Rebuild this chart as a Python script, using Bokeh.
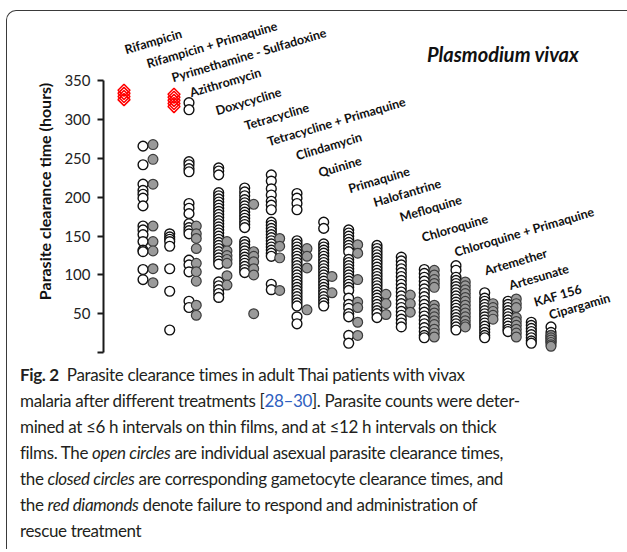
import math
from bokeh.plotting import figure
from bokeh.models import Range1d, FixedTicker, Div, ColumnDataSource, Label
from bokeh.layouts import column
from bokeh.embed import file_html
from bokeh.resources import INLINE
from bokeh.core.properties import value

# ---------------- data ----------------
drugs = ["Rifampicin", "Rifampicin + Primaquine", "Pyrimethamine - Sulfadoxine",
         "Azithromycin", "Doxycycline", "Tetracycline", "Tetracycline + Primaquine",
         "Clindamycin", "Quinine", "Primaquine", "Halofantrine", "Mefloquine",
         "Chloroquine", "Chloroquine + Primaquine", "Artemether", "Artesunate",
         "KAF 156", "Cipargamin"]

# asexual parasite clearance times (open circles), hours
open_times = [
    [],
    [266, 242, 217, 209, 204, 199, 189, 163, 158, 152, 143, 132, 130, 107, 94],
    [153, 149, 146, 143, 137, 108, 79, 29],
    [322, 313, 246, 242, 237, 233, 192, 186, 179, 166, 161, 157, 153, 119, 113, 104, 66, 58],
    [238, 234, 229, 206, 202, 198, 194, 190, 186, 182, 178, 174, 170, 166, 162, 158, 154,
     150, 146, 142, 138, 134, 130, 126, 122, 118, 114, 91, 86, 81, 76, 71],
    [212, 207, 202, 197, 193, 189, 185, 181, 177, 173, 169, 165, 161, 143, 139, 135, 131,
     127, 123, 119, 115, 111, 107, 103],
    [229, 221, 211, 203, 195, 190, 184, 168, 164, 160, 156, 152, 148, 144, 140, 136, 132,
     128, 124, 88, 81],
    [205, 199, 192, 184, 144, 140, 136, 132, 128, 124, 120, 116, 112, 108, 104, 100, 96, 92,
     88, 84, 80, 76, 72, 68, 64, 60, 46, 37],
    [168, 160, 140, 136, 132, 128, 124, 120, 116, 112, 108, 104, 100, 96, 92, 88, 84, 80,
     76, 72, 68, 64, 60],
    [158, 154, 150, 146, 142, 138, 134, 130, 120, 116, 112, 108, 104, 100, 96, 92, 88, 84,
     80, 70, 62, 57, 50, 46, 22, 12],
    [138, 134, 130, 126, 122, 118, 114, 110, 106, 102, 98, 94, 90, 86, 82, 78, 74, 70, 66,
     62, 58, 54, 50, 45],
    [123, 118, 113, 108, 103, 98, 93, 88, 83, 78, 73, 68, 63, 58, 53, 48, 43, 38, 33],
    [107, 102, 97, 92, 87, 82, 77, 72, 67, 62, 57, 52, 47, 42, 37, 32, 27, 22, 19],
    [112, 106, 97, 93, 89, 85, 81, 77, 73, 69, 65, 61, 57, 53, 49, 45, 41, 37, 33, 29],
    [77, 70, 66, 62, 58, 54, 50, 46, 42, 38, 34, 30, 26, 22, 19],
    [66, 62, 58, 54, 50, 46, 42, 38, 34, 30, 27],
    [39, 35, 31, 27, 23, 19, 15, 12],
    [33, 26, 22, 18, 14],
]

# gametocyte clearance times (closed circles), hours
closed_times = [
    [],
    [268, 249, 217, 163, 143, 131, 108, 90],
    [],
    [163, 153, 147, 134, 115, 104, 92, 61, 48],
    [143, 131, 125, 120, 115, 99, 87],
    [191, 130, 124, 117, 108, 100, 50],
    [147, 137, 122, 80],
    [134, 124, 109, 55],
    [98, 77],
    [139, 128, 94, 65, 58, 39, 22],
    [75, 63, 49],
    [74, 63, 52],
    [106, 100, 94, 89, 84, 61, 56, 51, 46, 41, 36, 30, 25, 20],
    [91, 86, 81, 76, 71, 66, 61, 56, 51, 46, 41, 36, 33],
    [63, 58, 53, 48, 43],
    [69, 63, 58, 45, 40, 35, 30, 25, 20],
    [],
    [22, 19, 16, 13, 10, 8],
]

# failures requiring rescue treatment (red diamonds), hours
failure_times = [
    [326, 330, 334, 338], [], [317, 321, 325, 329, 333],
    [], [], [], [], [], [], [], [], [], [], [], [], [], [], [],
]

y_ticks = [0, 50, 100, 150, 200, 250, 300, 350]

# ---------------- layout positions (hidden x axis) ----------------
open_x = [122, 141, 167.7, 187, 216.7, 242.7, 269.3, 295, 321.7, 346.7, 375, 399.3,
          422.3, 454, 482.7, 506, 529.3, 549]
closed_x = [131, 151, 176, 194.3, 225, 251.7, 277.7, 305, 330, 355.7, 384, 408.3,
            432.3, 463.3, 491, 514.3, 538, 549]
failure_x = [122, 141, 172, 187, 216.7, 242.7, 269.3, 295, 321.7, 346.7, 375, 399.3,
             422.3, 454, 482.7, 506, 529.3, 549]
label_x = [123, 145, 170, 188, 214, 242.7, 265.7, 294.3, 316.7, 346.7, 371.7, 398,
           420, 452.7, 482.7, 507.3, 532.3, 547.3]
label_y = [390, 372, 354, 334.5, 311.5, 292, 271.5, 253.5, 231.5, 211, 193, 174,
           148, 129, 105, 86, 64.5, 48]


def flatten(xpos, groups):
    xs, ys = [], []
    for xp, vals in zip(xpos, groups):
        for v in vals:
            xs.append(xp)
            ys.append(v)
    return xs, ys


ox, oy = flatten(open_x, open_times)
cx, cy = flatten(closed_x, closed_times)
fx, fy = flatten(failure_x, failure_times)

p = figure(width=612, height=349, output_backend="svg", toolbar_location=None,
           x_range=Range1d(101.5, 617.5), y_range=Range1d(-10.3, 425.4),
           x_axis_type=None, min_border_left=96, min_border_right=0,
           min_border_top=11, min_border_bottom=0)
p.outline_line_color = None
p.grid.grid_line_color = None
p.background_fill_alpha = 0
p.border_fill_alpha = 0

ax = p.yaxis[0]
ax.ticker = FixedTicker(ticks=y_ticks)
ax.bounds = (0, 350)
ax.major_label_overrides = {0: ""}
ax.minor_tick_line_color = None
ax.axis_line_width = 2
ax.axis_line_color = "#1a1a1a"
ax.major_tick_line_width = 2
ax.major_tick_line_color = "#1a1a1a"
ax.major_tick_out = 6
ax.major_tick_in = 0
ax.major_label_standoff = 7
ax.major_label_text_font = "Lato"
ax.major_label_text_font_size = "15px"
ax.major_label_text_color = "#222222"
ax.axis_label = "Parasite clearance time (hours)"
ax.axis_label_text_font = "Lato"
ax.axis_label_text_font_size = "16px"
ax.axis_label_text_font_style = "bold"
ax.axis_label_text_color = "#111111"
ax.axis_label_standoff = 7

p.scatter(ox, oy, size=9.8, marker="circle", fill_color="white",
          line_color="#111111", line_width=1.4)
p.scatter(cx, cy, size=9.8, marker="circle", fill_color="#9a9a9a",
          line_color="#3c3c3c", line_width=1.2)
p.scatter(fx, fy, size=8.5, marker="square", angle=math.pi / 4, fill_alpha=0,
          line_color="#ff0000", line_width=1.5)

lab_src = ColumnDataSource(dict(x=label_x, y=label_y, t=drugs))
p.text(x="x", y="y", text="t", source=lab_src, angle=math.radians(16.5),
       text_font=value("Lato"), text_font_size="12.5px", text_font_style="bold",
       text_color="#111111", text_align="left", text_baseline="alphabetic")

p.add_layout(Label(x=425, y=385, text="Plasmodium vivax", text_font="Lato",
                   text_font_size="20px", text_font_style="bold italic",
                   text_color="#111111", text_baseline="alphabetic"))

caption = (
    '<div style="margin-left:8px; margin-top:-3px; font-family:Lato; font-size:17px; '
    'line-height:26px; white-space:nowrap; color:#231f20; letter-spacing:-0.35px;">'
    '<b>Fig. 2</b>&nbsp;&nbsp;Parasite clearance times in adult Thai patients with vivax<br>'
    'malaria after different treatments [<span style="color:#2f5fbf">28–30</span>]. '
    'Parasite counts were deter-<br>'
    'mined at ≤6 h intervals on thin films, and at ≤12 h intervals on thick<br>'
    'films. The <i>open circles</i> are individual asexual parasite clearance times,<br>'
    'the <i>closed circles</i> are corresponding gametocyte clearance times, and<br>'
    'the <i>red diamonds</i> denote failure to respond and administration of<br>'
    'rescue treatment</div>'
)
div = Div(text=caption, width=612, height=179)

layout = column(p, div, margin=(5, 0, 0, 3),
                styles={"border-top": "1.5px solid #3a3a3a",
                        "border-left": "1.5px solid #3a3a3a",
                        "border-top-left-radius": "10px",
                        "position": "relative", "left": "3px", "top": "5px"})

open("out.html", "w").write(file_html(layout, INLINE))
